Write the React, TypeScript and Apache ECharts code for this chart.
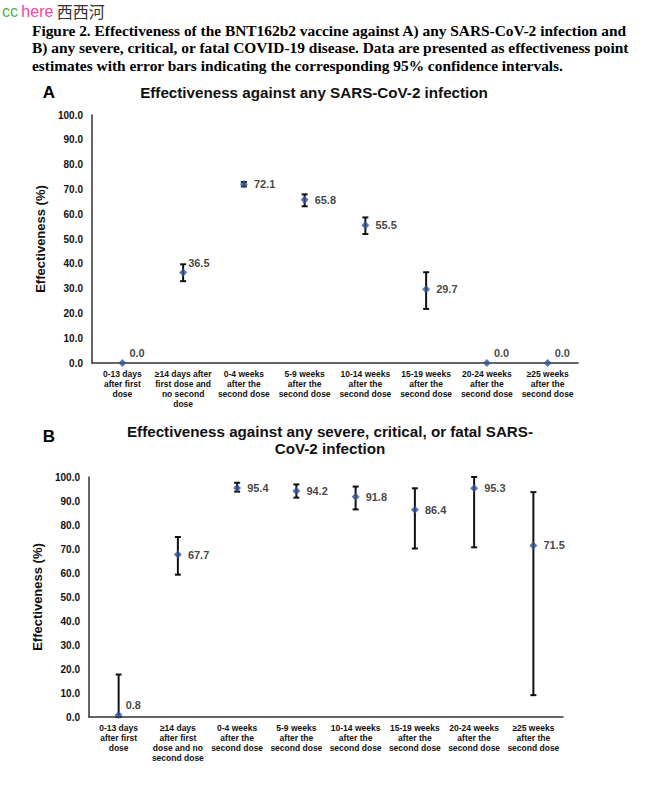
import React, { useEffect, useRef } from "react";
import * as echarts from "echarts";

const categoriesA = [
  "0-13 days\nafter first\ndose",
  "≥14 days after\nfirst dose and\nno second\ndose",
  "0-4 weeks\nafter the\nsecond dose",
  "5-9 weeks\nafter the\nsecond dose",
  "10-14 weeks\nafter the\nsecond dose",
  "15-19 weeks\nafter the\nsecond dose",
  "20-24 weeks\nafter the\nsecond dose",
  "≥25 weeks\nafter the\nsecond dose",
];
const categoriesB = [
  "0-13 days\nafter first\ndose",
  "≥14 days\nafter first\ndose and no\nsecond dose",
  "0-4 weeks\nafter the\nsecond dose",
  "5-9 weeks\nafter the\nsecond dose",
  "10-14 weeks\nafter the\nsecond dose",
  "15-19 weeks\nafter the\nsecond dose",
  "20-24 weeks\nafter the\nsecond dose",
  "≥25 weeks\nafter the\nsecond dose",
];
const valuesA = [0.0, 36.5, 72.1, 65.8, 55.5, 29.7, 0.0, 0.0];
const lowerA: (number | null)[] = [null, 33.0, 71.2, 63.2, 52.0, 21.8, null, null];
const upperA: (number | null)[] = [null, 39.8, 73.0, 68.0, 58.7, 36.6, null, null];
const valuesB = [0.8, 67.7, 95.4, 94.2, 91.8, 86.4, 95.3, 71.5];
const lowerB: (number | null)[] = [0.0, 59.3, 93.9, 91.4, 86.5, 70.2, 70.7, 9.1];
const upperB: (number | null)[] = [17.7, 75.0, 97.6, 96.9, 96.0, 95.3, 100.0, 93.7];
const yTicks = [0, 100, 10];

const captionLines = [
  "Figure 2. Effectiveness of the BNT162b2 vaccine against A) any SARS-CoV-2 infection and",
  "B) any severe, critical, or fatal COVID-19 disease. Data are presented as effectiveness point",
  "estimates with error bars indicating the corresponding 95% confidence intervals.",
];
const titleA = "Effectiveness against any SARS-CoV-2 infection";
const titleB = "Effectiveness against any severe, critical, or fatal SARS-\nCoV-2 infection";
const yName = "Effectiveness (%)";

// label placement per panel (index -> placement kind)
const aboveIdxA = [0, 6, 7];
const upIdxA = [1];
const aboveIdxB = [0];

const FONT = "Liberation Sans, Arial, sans-serif";
const BLUE = "#2f5597";

function pointData(values: number[], above: number[], up: number[]) {
  return values.map((v, i) => {
    let label: any = { position: "right", distance: 6 };
    if (above.includes(i)) label = { position: [11, -6] };
    if (up.includes(i)) label = { position: [9, -5] };
    return { value: v, label };
  });
}

function ciData(lo: (number | null)[], hi: (number | null)[]) {
  const out: number[][] = [];
  lo.forEach((l, i) => {
    const h = hi[i];
    if (l !== null && h !== null) out.push([i, l, h]);
  });
  return out;
}

function renderCI(params: any, api: any) {
  const x = api.value(0);
  const lo = api.coord([x, api.value(1)]);
  const hi = api.coord([x, api.value(2)]);
  const cap = 3;
  const style = { stroke: "#111", lineWidth: 2 };
  return {
    type: "group",
    children: [
      { type: "line", shape: { x1: lo[0], y1: lo[1], x2: hi[0], y2: hi[1] }, style },
      { type: "line", shape: { x1: lo[0] - cap, y1: lo[1], x2: lo[0] + cap, y2: lo[1] }, style },
      { type: "line", shape: { x1: hi[0] - cap, y1: hi[1], x2: hi[0] + cap, y2: hi[1] }, style },
    ],
  };
}

function xAxis(cats: string[], gridIndex: number) {
  return {
    type: "category",
    gridIndex,
    data: cats,
    boundaryGap: true,
    axisLine: { lineStyle: { color: "#333", width: 1.5 } },
    axisTick: { show: false },
    axisLabel: {
      interval: 0,
      color: "#111",
      fontFamily: FONT,
      fontWeight: "bold",
      fontSize: 8.5,
      lineHeight: 10,
      margin: 6,
    },
  };
}

function yAxis(gridIndex: number) {
  return {
    type: "value",
    gridIndex,
    min: yTicks[0],
    max: yTicks[1],
    interval: yTicks[2],
    axisLine: { show: true, lineStyle: { color: "#333", width: 1.5 } },
    axisTick: { show: false },
    splitLine: { show: false },
    axisLabel: {
      color: "#111",
      fontFamily: FONT,
      fontWeight: "bold",
      fontSize: 10,
      margin: 9,
      formatter: (v: number) => v.toFixed(1),
    },
    name: yName,
    nameLocation: "middle",
    nameGap: 38,
    nameRotate: 90,
    nameTextStyle: { color: "#111", fontFamily: FONT, fontWeight: "bold", fontSize: 13 },
  };
}

export default function App() {
  const ref = useRef<HTMLDivElement>(null);
  useEffect(() => {
    const chart = echarts.init(ref.current!, null, { renderer: "svg" });
    const labelStyle = {
      show: true,
      color: "#111",
      fontFamily: FONT,
      fontWeight: "bold",
      fontSize: 11,
      align: "left",
      verticalAlign: "middle",
      formatter: (p: any) => Number(p.value).toFixed(1),
    };
    chart.setOption({
      animation: false,
      backgroundColor: "#fff",
      grid: [
        { left: 92, top: 115, width: 486, height: 248 },
        { left: 89, top: 477, width: 474, height: 240 },
      ],
      xAxis: [xAxis(categoriesA, 0), xAxis(categoriesB, 1)],
      yAxis: [yAxis(0), yAxis(1)],
      series: [
        {
          type: "custom",
          xAxisIndex: 0,
          yAxisIndex: 0,
          renderItem: renderCI,
          data: ciData(lowerA, upperA),
          z: 2,
        },
        {
          type: "scatter",
          xAxisIndex: 0,
          yAxisIndex: 0,
          symbol: "diamond",
          symbolSize: 8,
          itemStyle: { color: BLUE },
          label: labelStyle,
          data: pointData(valuesA, aboveIdxA, upIdxA),
          z: 3,
        },
        {
          type: "custom",
          xAxisIndex: 1,
          yAxisIndex: 1,
          renderItem: renderCI,
          data: ciData(lowerB, upperB),
          z: 2,
        },
        {
          type: "scatter",
          xAxisIndex: 1,
          yAxisIndex: 1,
          symbol: "diamond",
          symbolSize: 8,
          itemStyle: { color: BLUE },
          label: labelStyle,
          data: pointData(valuesB, aboveIdxB, []),
          z: 3,
        },
      ],
      graphic: [
        {
          type: "text",
          left: 2,
          top: 3,
          style: {
            text: "{g|cc} {p|here} {k|西西河}",
            rich: {
              g: { fill: "#4caf50", fontSize: 16, fontFamily: FONT },
              p: { fill: "#ff3fa0", fontSize: 16, fontFamily: FONT },
              k: { fill: "#333", fontSize: 16, fontFamily: "Noto Sans CJK SC, sans-serif" },
            },
          },
        },
        ...captionLines.map((t, i) => ({
          type: "text",
          x: 32,
          y: 30 + i * 17.8,
          style: {
            text: t,
            fill: "#000",
            font: "bold 15.4px 'Liberation Serif', 'Times New Roman', serif",
            verticalAlign: "middle",
            align: "left",
          },
        })),
        {
          type: "text",
          x: 49,
          y: 92,
          style: { text: "A", fill: "#000", font: `bold 17px ${FONT}`, align: "center", verticalAlign: "middle" },
        },
        {
          type: "text",
          x: 314,
          y: 92,
          style: { text: titleA, fill: "#111", font: `bold 15.2px ${FONT}`, align: "center", verticalAlign: "middle" },
        },
        {
          type: "text",
          x: 49,
          y: 436,
          style: { text: "B", fill: "#000", font: `bold 17px ${FONT}`, align: "center", verticalAlign: "middle" },
        },
        {
          type: "text",
          x: 330,
          y: 440,
          style: {
            text: titleB,
            fill: "#111",
            font: `bold 15.2px ${FONT}`,
            lineHeight: 17,
            align: "center",
            verticalAlign: "middle",
          },
        },
      ],
    });
    return () => chart.dispose();
  }, []);
  return (
    <div
      ref={ref}
      style={{ position: "fixed", left: 0, top: 0, width: 655, height: 793, background: "#fff" }}
    />
  );
}
